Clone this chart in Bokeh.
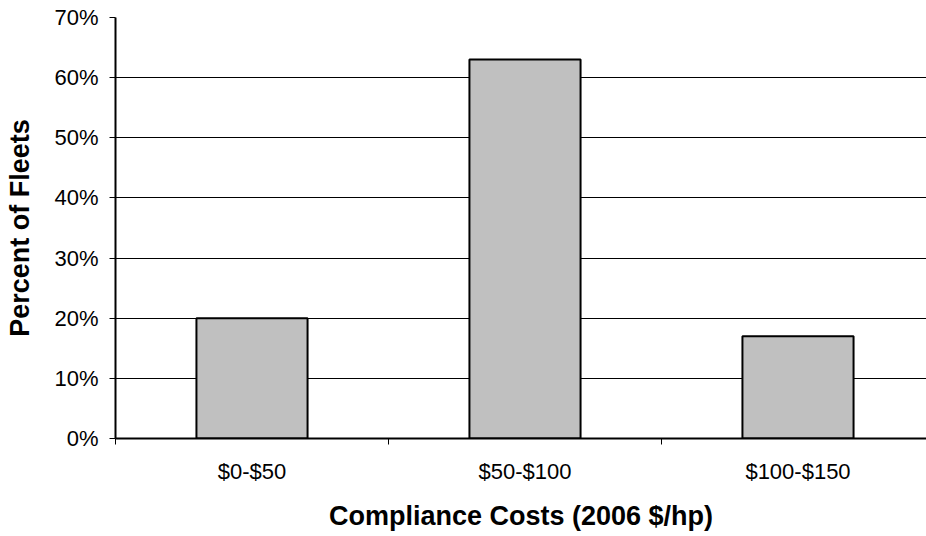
from bokeh.plotting import figure
from bokeh.models import Range1d, FixedTicker, ColumnDataSource
from bokeh.embed import file_html
from bokeh.resources import INLINE

# Share of fleets by compliance-cost bracket
categories = ["$0-$50", "$50-$100", "$100-$150"]
percent_of_fleets = [20, 63, 17]

y_ticks = [0, 10, 20, 30, 40, 50, 60, 70]
y_tick_labels = ["0%", "10%", "20%", "30%", "40%", "50%", "60%", "70%"]

FONT = "Liberation Sans"

centers = [i + 0.5 for i in range(len(categories))]
source = ColumnDataSource(data=dict(x=centers, top=percent_of_fleets, cat=categories))

p = figure(
    width=926, height=536,
    x_range=Range1d(0, 2.9707), y_range=Range1d(0, 70),
    output_backend="svg", toolbar_location=None,
    min_border_left=115, min_border_right=0,
    min_border_top=17, min_border_bottom=98,
)
p.outline_line_color = None
p.background_fill_color = "white"
p.border_fill_color = "white"

p.vbar(x="x", top="top", width=0.407, source=source,
       fill_color="#C0C0C0", line_color="black", line_width=2)

# y axis: percent ticks, horizontal grid lines
p.yaxis.ticker = FixedTicker(ticks=y_ticks, minor_ticks=[])
p.yaxis.major_label_overrides = {t: lab for t, lab in zip(y_ticks, y_tick_labels)}
p.yaxis.axis_label = "Percent of Fleets"
p.yaxis.axis_line_color = "black"
p.yaxis.axis_line_width = 2
p.yaxis.major_tick_out = 6
p.yaxis.major_tick_in = 0
p.yaxis.major_tick_line_color = "black"
p.yaxis.major_label_standoff = 11
p.yaxis.axis_label_standoff = 16

# x axis: labels at bar centres, small marks between brackets
p.xaxis.ticker = FixedTicker(ticks=centers, minor_ticks=[0, 1, 2, 3])
p.xaxis.major_label_overrides = {c: lab for c, lab in zip(centers, categories)}
p.xaxis.axis_label = "Compliance Costs (2006 $/hp)"
p.xaxis.axis_line_color = "black"
p.xaxis.axis_line_width = 2
p.xaxis.major_tick_line_color = None
p.xaxis.major_tick_out = 0
p.xaxis.major_tick_in = 0
p.xaxis.minor_tick_out = 6
p.xaxis.minor_tick_in = 0
p.xaxis.minor_tick_line_color = "black"
p.xaxis.major_label_standoff = 14
p.xaxis.axis_label_standoff = 14

for ax in (p.xaxis, p.yaxis):
    ax.major_label_text_font = FONT
    ax.major_label_text_font_size = "22px"
    ax.major_label_text_color = "black"
    ax.axis_label_text_font = FONT
    ax.axis_label_text_font_size = "27px"
    ax.axis_label_text_font_style = "bold"
    ax.axis_label_text_color = "black"

p.xgrid.grid_line_color = None
p.ygrid.ticker = FixedTicker(ticks=y_ticks)
p.ygrid.grid_line_color = "black"
p.ygrid.grid_line_width = 1

open("out.html", "w").write(file_html(p, INLINE))
